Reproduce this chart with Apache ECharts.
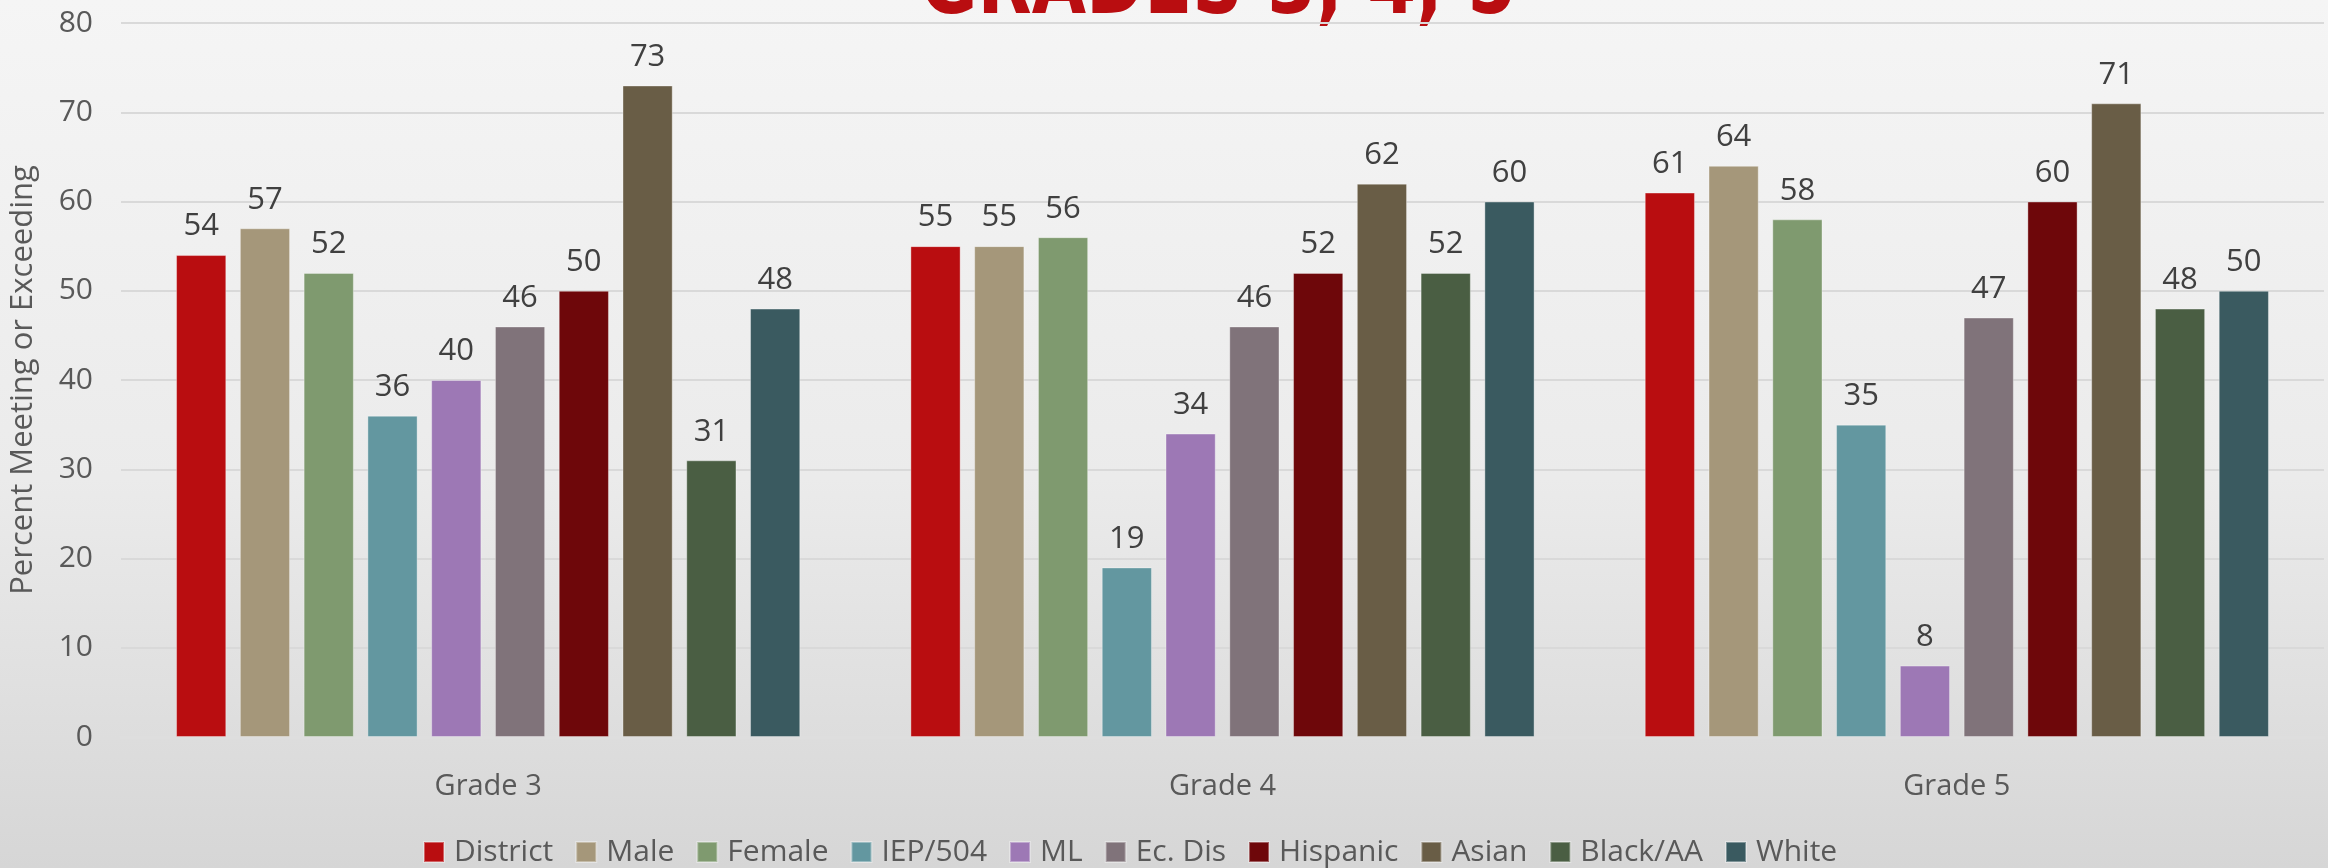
<!DOCTYPE html>
<html>
<head>
<meta charset="utf-8">
<script src="https://cdn.jsdelivr.net/npm/echarts@6/dist/echarts.min.js"></script>
<style>
  html, body { margin: 0; padding: 0; }
  #chart { width: 2328px; height: 868px; }
</style>
</head>
<body>
<div id="chart"></div>
<script>
  const categories = ['Grade 3', 'Grade 4', 'Grade 5'];
  const groups = ['District', 'Male', 'Female', 'IEP/504', 'ML', 'Ec. Dis', 'Hispanic', 'Asian', 'Black/AA', 'White'];
  const colors = ['#B90D10', '#A5977A', '#7F9A6F', '#6397A0', '#9D78B5', '#80737A', '#6E070A', '#695D46', '#4A5E43', '#3A5A60'];
  // one array per grade, in the order of groups
  const grade3 = [54, 57, 52, 36, 40, 46, 50, 73, 31, 48];
  const grade4 = [55, 55, 56, 19, 34, 46, 52, 62, 52, 60];
  const grade5 = [61, 64, 58, 35, 8, 47, 60, 71, 48, 50];
  const yTicks = [0, 10, 20, 30, 40, 50, 60, 70, 80];

  const font = '"Open Sans", "Noto Sans", sans-serif';

  const series = groups.map((name, i) => ({
    name: name,
    type: 'bar',
    barGap: '27%',
    barCategoryGap: '15%',
    itemStyle: {
      color: colors[i],
      borderColor: 'rgba(255,255,255,0.35)',
      borderWidth: 1
    },
    label: {
      show: true,
      position: 'top',
      distance: 13,
      color: '#404040',
      fontFamily: font,
      fontSize: 31
    },
    data: [grade3[i], grade4[i], grade5[i]]
  }));

  const chart = echarts.init(document.getElementById('chart'));
  chart.setOption({
    animation: false,
    backgroundColor: new echarts.graphic.LinearGradient(0, 0, 0, 1, [
      { offset: 0, color: '#f5f5f5' },
      { offset: 0.55, color: '#ebebeb' },
      { offset: 1, color: '#d6d6d6' }
    ]),
    color: colors,
    // slide title, mostly cut off at the top edge
    graphic: [{
      type: 'text',
      left: 920,
      top: -55,
      scaleX: 0.78,
      style: {
        text: 'GRADES 3, 4, 5',
        fill: '#B90D10',
        font: 'bold 90px "DejaVu Sans"'
      }
    }],
    grid: { left: 121, right: 4, top: 23, bottom: 131 },
    legend: {
      left: 418,
      top: 832,
      itemWidth: 20,
      itemHeight: 20,
      itemGap: 22,
      icon: 'rect',
      textStyle: { color: '#595959', fontFamily: font, fontSize: 30, padding: [0, 0, 0, 5] }
    },
    xAxis: {
      type: 'category',
      data: categories,
      axisLine: { show: true, lineStyle: { color: '#dedede', width: 3 } },
      axisTick: { show: false },
      axisLabel: { color: '#595959', fontFamily: font, fontSize: 29, margin: 35 }
    },
    yAxis: {
      type: 'value',
      min: yTicks[0],
      max: yTicks[yTicks.length - 1],
      interval: 10,
      name: 'Percent Meeting or Exceeding',
      nameLocation: 'middle',
      nameGap: 82,
      nameTextStyle: { color: '#595959', fontFamily: font, fontSize: 31 },
      axisLabel: { color: '#595959', fontFamily: font, fontSize: 30, margin: 28 },
      splitLine: { lineStyle: { color: '#d9d9d9', width: 2 } }
    },
    series: series
  });
</script>
</body>
</html>
